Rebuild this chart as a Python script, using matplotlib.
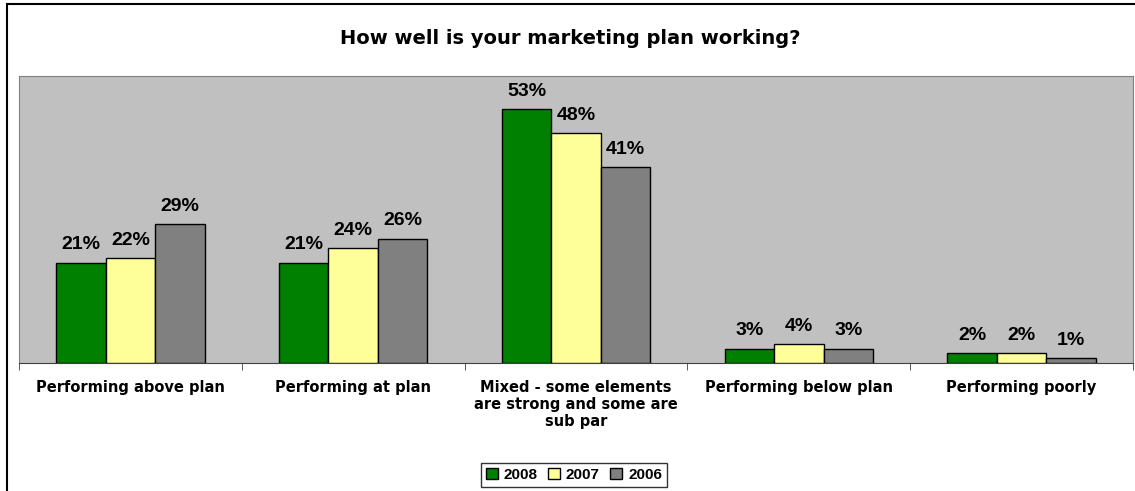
import numpy as np
import matplotlib.pyplot as plt
from matplotlib.patches import Rectangle

categories = ["Performing above plan", "Performing at plan",
              "Mixed - some elements\nare strong and some are\nsub par",
              "Performing below plan", "Performing poorly"]
years = ["2008", "2007", "2006"]
v2008 = [21, 21, 53, 3, 2]
v2007 = [22, 24, 48, 4, 2]
v2006 = [29, 26, 41, 3, 1]
colors = ["#008000", "#FFFF99", "#808080"]

plt.rcParams['font.family'] = ['Liberation Sans', 'DejaVu Sans']
wide = ['DejaVu Sans']

W, H = 1135, 491
fig = plt.figure(figsize=(W / 100, H / 100), dpi=100)
ax = fig.add_axes([19 / W, 1 - 363 / H, (1133 - 19) / W, (363 - 76) / H])
ax.set_facecolor("#C0C0C0")

# outer chart border (chart is cropped on right/bottom)
fig.patches.append(Rectangle((7 / W, -0.1), 1.2, 1 - 4 / H + 0.1,
                             transform=fig.transFigure, fill=False,
                             edgecolor="black", linewidth=1.5))

x = np.arange(len(categories))
bw = 1 / 4.5
for i, (vals, col, lab) in enumerate(zip([v2008, v2007, v2006], colors, years)):
    bars = ax.bar(x + (i - 1) * bw, vals, bw, color=col, edgecolor="black",
                  linewidth=1, label=lab, zorder=3)
    for b, v in zip(bars, vals):
        ax.annotate(f"{v}%", (b.get_x() + b.get_width() / 2, v),
                    xytext=(0, 9.5), textcoords="offset points",
                    ha="center", va="baseline", fontsize=14, fontweight="bold")

ax.set_xlim(-0.5, len(categories) - 0.5)
ax.set_ylim(0, 60)
ax.set_yticks([])
ax.set_xticks(x)
ax.set_xticklabels(categories, fontsize=10.5, fontweight="bold",
                   linespacing=1.2, family=wide)
ax.tick_params(axis="x", length=0, pad=12)
ax.set_xticks(np.arange(len(categories) + 1) - 0.5, minor=True)
ax.tick_params(axis="x", which="minor", length=5, direction="out", color="#404040")
for s in ["top", "left", "right"]:
    ax.spines[s].set_color("#808080")
ax.spines["bottom"].set_color("#404040")

fig.text(570 / W, 1 - 39 / H, "How well is your marketing plan working?",
         ha="center", va="center", fontsize=14, fontweight="bold", family=wide)

leg = fig.legend(loc="center", bbox_to_anchor=(574 / W, 1 - 475 / H), ncol=3,
                 frameon=True, fancybox=False, edgecolor="black",
                 prop={"weight": "bold", "size": 11}, handlelength=0.75,
                 handleheight=0.75, handletextpad=0.4, columnspacing=0.7,
                 borderpad=0.35)
leg.get_frame().set_linewidth(1)

fig.savefig("out.png", dpi=100)
